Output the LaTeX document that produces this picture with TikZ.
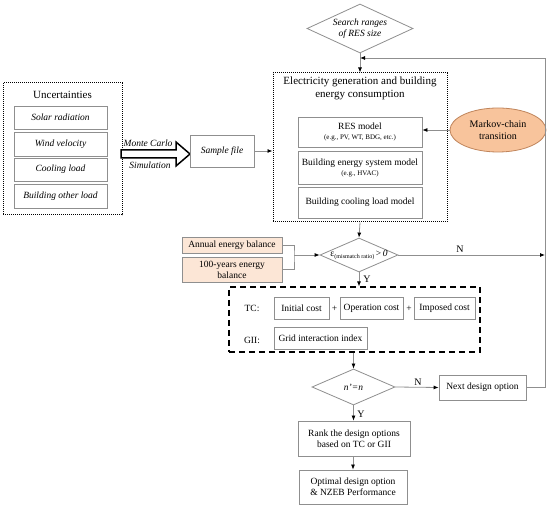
\documentclass[tikz,border=0pt]{standalone}
\usepackage{fontspec}
\setmainfont{Liberation Serif}
\usetikzlibrary{shapes.geometric,arrows.meta,calc}
\definecolor{bord}{HTML}{8F8F8F}
\definecolor{peach}{HTML}{FCE6D6}
\definecolor{orng}{HTML}{F8C49C}
\definecolor{orngd}{HTML}{C0855C}
\begin{document}
\begin{tikzpicture}[x=1pt,y=-1pt,
  box/.style={draw=bord, line width=0.8pt, fill=white, align=center, inner sep=0pt,
    font=\fontsize{9.5}{11}\selectfont},
  pbox/.style={box, fill=peach},
  ibox/.style={box, font=\fontsize{9.5}{11}\itshape},
  dia/.style={diamond, draw=bord, line width=0.8pt, fill=white, inner sep=0pt},
  txt/.style={align=center, inner sep=0pt, font=\fontsize{9.5}{11}\selectfont},
  dotbox/.style={draw=black, line width=1pt, dash pattern=on 1pt off 1pt, inner sep=0pt},
  arr/.style={draw=bord, line width=0.8pt, -{Latex[length=5pt,width=4pt,color=black]}},
  ln/.style={draw=bord, line width=0.8pt}
]
\useasboundingbox (0,0) rectangle (550,510);

% Uncertainties
\node[dotbox, minimum width=119pt, minimum height=132pt] (unc) at (62.5,149) {};
\node[txt, font=\fontsize{11}{12}\selectfont] (unct) at (62.5,95) {Uncertainties};
\node[ibox, minimum width=93pt, minimum height=23pt] (u1) at (60.5,117.5) {Solar radiation};
\node[ibox, minimum width=93pt, minimum height=24pt] (u2) at (60.5,144) {Wind velocity};
\node[ibox, minimum width=93pt, minimum height=23pt] (u3) at (60.5,169.5) {Cooling load};
\node[ibox, minimum width=93pt, minimum height=24pt] (u4) at (60.5,196) {Building other load};

% big arrow
\draw[line width=1.5pt, fill=white] (121,150) -- (176,150) -- (176,142) -- (190,154) -- (176,166) -- (176,158) -- (121,158) -- cycle;
\node[txt, font=\fontsize{9.5}{11}\itshape] (mc) at (148,143) {Monte Carlo};
\node[txt, font=\fontsize{9.5}{11}\itshape] (sim) at (150,165) {Simulation};

% sample file
\node[ibox, minimum width=64pt, minimum height=32pt] (sample) at (222,151) {Sample file};

% search diamond
\node[dia, minimum width=106pt, minimum height=49pt] (search) at (360,28.5) {};
\node[txt, font=\fontsize{9.5}{11.5}\itshape] (searcht) at (search) {Search ranges\\of RES size};

% big dotted box
\node[dotbox, minimum width=174pt, minimum height=149pt] (elec) at (360,147.5) {};
\node[txt, font=\fontsize{11}{13}\selectfont] (elect) at (360,88.5) {Electricity generation and building\\energy consumption};
\node[box, minimum width=124pt, minimum height=30pt] (res) at (360,132) {RES model\\[-1pt]{\fontsize{7}{8}\selectfont (e.g., PV, WT, BDG, etc.)}};
\node[box, minimum width=124pt, minimum height=33pt] (bes) at (360,167.5) {Building energy system model\\[-1pt]{\fontsize{7}{8}\selectfont (e.g., HVAC)}};
\node[box, minimum width=124pt, minimum height=31pt] (bcl) at (360,202.5) {Building cooling load model};

% Markov
\node[ellipse, draw=orngd, line width=0.8pt, fill=orng, minimum width=96pt, minimum height=44pt, align=center, inner sep=0pt, font=\fontsize{10}{12}\selectfont] (markov) at (498,130) {Markov-chain\\transition};

% energy balance boxes
\node[pbox, minimum width=100pt, minimum height=16pt] (annual) at (232,245.5) {Annual energy balance};
\node[pbox, minimum width=100pt, minimum height=25pt] (years) at (232,269.5) {100-years energy\\balance};

% eps diamond
\node[dia, minimum width=78pt, minimum height=34pt] (eps) at (359,255) {};
\node[txt] (epst) at (eps) {ε\raisebox{-1.5pt}{\fontsize{6}{7}\selectfont(mismatch ratio)}\,>\,\textit{0}};

% dashed box
\node[draw=black, line width=1.2pt, dash pattern=on 6pt off 4pt, minimum width=251pt, minimum height=65pt, inner sep=0pt] (cost) at (354.5,319.5) {};
\node[txt] (tc) at (252,308) {TC:};
\node[txt] (gii) at (252,340) {GII:};
\node[box, minimum width=55pt, minimum height=22pt] (init) at (301.5,308) {Initial cost};
\node[txt] (p1) at (334.5,308.5) {+};
\node[box, minimum width=63pt, minimum height=22pt] (oper) at (371.5,308) {Operation cost};
\node[txt] (p2) at (409,308.5) {+};
\node[box, minimum width=61pt, minimum height=22pt] (impo) at (444.5,308) {Imposed cost};
\node[box, minimum width=93pt, minimum height=22pt] (grid) at (320.5,338) {Grid interaction index};

% n'=n diamond
\node[dia, minimum width=83pt, minimum height=36pt] (nn) at (353.5,387) {};
\node[txt, font=\fontsize{9.5}{11}\itshape] (nnt) at (nn) {n'=n};
\node[box, minimum width=87pt, minimum height=25pt] (next) at (482.5,387.5) {Next design option};
\node[box, minimum width=112pt, minimum height=35pt] (rank) at (354,438.5) {Rank the design options\\based on TC or GII};
\node[box, minimum width=108pt, minimum height=34pt] (opt) at (353,487) {Optimal design option\\\& NZEB Performance};

% labels
\node[txt, font=\fontsize{10}{11}\selectfont] (lN1) at (460,249) {N};
\node[txt, font=\fontsize{10}{11}\selectfont] (lY1) at (367,279) {Y};
\node[txt, font=\fontsize{10}{11}\selectfont] (lN2) at (418,382) {N};
\node[txt, font=\fontsize{10}{11}\selectfont] (lY2) at (361,414) {Y};

% coordinates
\coordinate (fbin) at (360,58);
\coordinate (rline) at (545,255);
\coordinate (join) at (294,255);

% connectors
\draw[arr] (sample.east) -- (sample.east -| elec.west);
\draw[arr] (search.south) -- (elec.north);
\draw[arr] (markov.west) -- (markov.west -| res.east);
\draw[arr] (elec.south) -- (eps.north);
\draw[ln] (annual.east) -| (join) |- (years.east);
\draw[arr] (join) -- (eps.west);
\draw[arr] (eps.east) -- (rline);
\draw[arr] (eps.south) -- (eps.south |- cost.north);
\draw[arr] (cost.south -| nn.north) -- (nn.north);
\draw[arr] (nn.east) -- (next.west);
\draw[arr] (nn.south) -- (rank.north -| nn.south);
\draw[arr] (rank.south -| opt.north) -- (opt.north);
\draw[arr] (next.east) -| (rline |- fbin) -- (fbin);
\end{tikzpicture}
\end{document}
